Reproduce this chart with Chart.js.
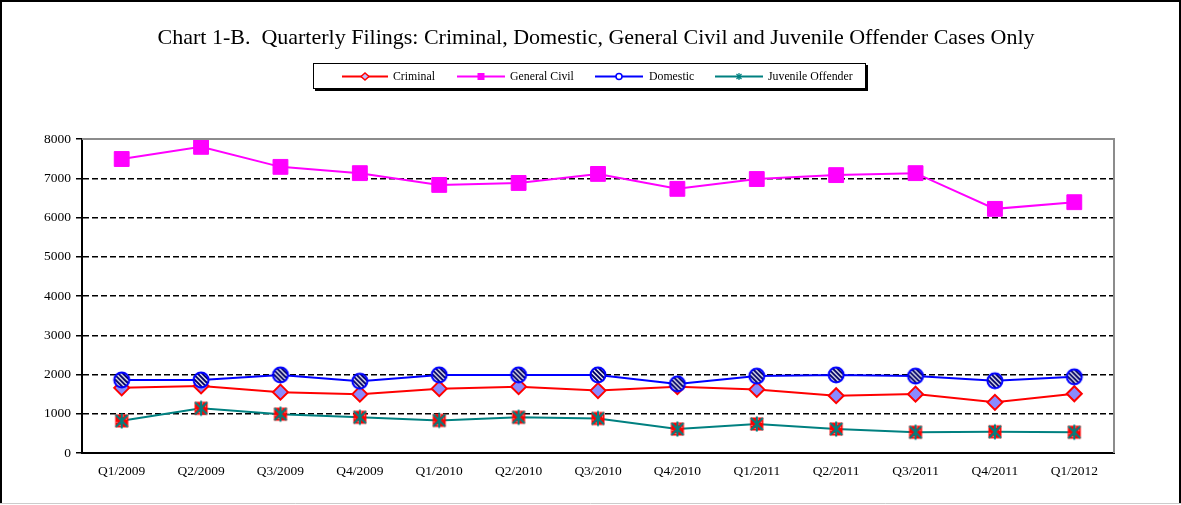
<!DOCTYPE html>
<html>
<head>
<meta charset="utf-8">
<script src="https://cdn.jsdelivr.net/npm/chart.js@4.4.1/dist/chart.umd.min.js"></script>
<style>
  html, body { margin: 0; padding: 0; background: #fff; }
  #wrap { position: relative; width: 1181px; height: 505px; }
</style>
</head>
<body>
<div id="wrap"><canvas id="c" width="1181" height="505"></canvas></div>
<script>
const chartTitle = 'Chart 1-B.  Quarterly Filings: Criminal, Domestic, General Civil and Juvenile Offender Cases Only';
const categories = ['Q1/2009','Q2/2009','Q3/2009','Q4/2009','Q1/2010','Q2/2010','Q3/2010','Q4/2010','Q1/2011','Q2/2011','Q3/2011','Q4/2011','Q1/2012'];
const seriesNames = ['Criminal', 'General Civil', 'Domestic', 'Juvenile Offender'];
const criminal     = [1660, 1710, 1550, 1500, 1640, 1690, 1590, 1690, 1620, 1460, 1500, 1290, 1510];
const generalCivil = [7490, 7800, 7290, 7130, 6830, 6880, 7110, 6730, 6980, 7080, 7130, 6220, 6390];
const domestic     = [1860, 1860, 1990, 1830, 1990, 1990, 1990, 1760, 1960, 1990, 1960, 1840, 1940];
const juvenile     = [820, 1140, 990, 910, 830, 910, 880, 610, 740, 610, 530, 540, 530];
const yTicks = [0, 1000, 2000, 3000, 4000, 5000, 6000, 7000, 8000];

const FONT = '"Liberation Serif", "Times New Roman", serif';

// Domestic marker: blue circle with navy/white diagonal stripes
function makeDomesticMarker() {
  const s = 20, c = document.createElement('canvas');
  c.width = s; c.height = s;
  const g = c.getContext('2d');
  const r = 7.5;
  g.save();
  g.beginPath(); g.arc(s/2, s/2, r, 0, Math.PI*2); g.closePath();
  g.clip();
  g.fillStyle = '#ffffff'; g.fillRect(0, 0, s, s);
  g.strokeStyle = '#000066'; g.lineWidth = 2;
  for (let k = -s; k < 2*s; k += 4.6) {
    g.beginPath(); g.moveTo(k, 0); g.lineTo(k + s, s); g.stroke();
  }
  g.restore();
  g.beginPath(); g.arc(s/2, s/2, r, 0, Math.PI*2);
  g.strokeStyle = '#0000ff'; g.lineWidth = 2; g.stroke();
  return c;
}
// Juvenile marker: red hatched square with teal star
function makeJuvenileMarker() {
  const s = 18, c = document.createElement('canvas');
  c.width = s; c.height = s;
  const g = c.getContext('2d');
  const h = 6.5;
  g.fillStyle = '#ff0000';
  g.fillRect(s/2 - h, s/2 - h, 2*h, 2*h);
  g.fillStyle = '#ffc0c0';
  for (let i = 0; i < 4; i++) for (let j = 0; j < 4; j++) {
    if ((i + j) % 2 === 0) g.fillRect(s/2 - h + 1 + i*3.2, s/2 - h + 1 + j*3.2, 1, 1);
  }
  g.strokeStyle = '#008080'; g.lineWidth = 2;
  const r = 7.5;
  g.beginPath();
  g.moveTo(s/2 - r*0.8, s/2 - r*0.8); g.lineTo(s/2 + r*0.8, s/2 + r*0.8);
  g.moveTo(s/2 + r*0.8, s/2 - r*0.8); g.lineTo(s/2 - r*0.8, s/2 + r*0.8);
  g.moveTo(s/2, s/2 - r); g.lineTo(s/2, s/2 + r);
  g.stroke();
  return c;
}

const domMarker = makeDomesticMarker();
const juvMarker = makeJuvenileMarker();

const decoPlugin = {
  id: 'deco',
  afterDraw(chart) {
    const ctx = chart.ctx;
    const a = chart.chartArea;
    ctx.save();
    // gray plot-area top/right border
    ctx.strokeStyle = '#8c8c8c'; ctx.lineWidth = 2;
    ctx.beginPath();
    ctx.moveTo(a.left, a.top); ctx.lineTo(a.right, a.top); ctx.lineTo(a.right, a.bottom);
    ctx.stroke();
    // outer border
    ctx.strokeStyle = '#000'; ctx.lineWidth = 2;
    ctx.beginPath();
    ctx.moveTo(1, 504); ctx.lineTo(1, 1); ctx.lineTo(1180, 1); ctx.lineTo(1180, 504);
    ctx.stroke();
    ctx.strokeStyle = '#cccccc'; ctx.lineWidth = 1;
    ctx.beginPath(); ctx.moveTo(0, 503.5); ctx.lineTo(1181, 503.5); ctx.stroke();

    // title
    ctx.fillStyle = '#000';
    ctx.font = '22px ' + FONT;
    ctx.textAlign = 'center'; ctx.textBaseline = 'middle';
    ctx.fillText(chartTitle, 596, 38);

    // legend box
    ctx.fillStyle = '#000';
    ctx.fillRect(315, 65, 553, 26); // shadow
    ctx.fillStyle = '#fff';
    ctx.fillRect(313, 63, 553, 26);
    ctx.strokeStyle = '#000'; ctx.lineWidth = 1;
    ctx.strokeRect(313.5, 63.5, 552, 25);

    const items = [
      { x0: 342, x1: 388, tx: 393, color: '#ff0000', m: 'diamond' },
      { x0: 457, x1: 505, tx: 510, color: '#ff00ff', m: 'square' },
      { x0: 595, x1: 643, tx: 649, color: '#0000ff', m: 'circle' },
      { x0: 715, x1: 763, tx: 768, color: '#008080', m: 'star' }
    ];
    const ly = 76.5;
    items.forEach((it, i) => {
      ctx.strokeStyle = it.color; ctx.lineWidth = 2;
      ctx.beginPath(); ctx.moveTo(it.x0, ly); ctx.lineTo(it.x1, ly); ctx.stroke();
      const cx = (it.x0 + it.x1) / 2;
      ctx.lineWidth = 1.5;
      if (it.m === 'diamond') {
        ctx.fillStyle = '#c0c0ff';
        ctx.beginPath();
        ctx.moveTo(cx - 4, ly); ctx.lineTo(cx, ly - 3.5); ctx.lineTo(cx + 4, ly); ctx.lineTo(cx, ly + 3.5); ctx.closePath();
        ctx.fill(); ctx.stroke();
      } else if (it.m === 'square') {
        ctx.fillStyle = it.color;
        ctx.fillRect(cx - 3.5, ly - 3.5, 7, 7);
      } else if (it.m === 'circle') {
        ctx.fillStyle = '#fff';
        ctx.beginPath(); ctx.arc(cx, ly, 3, 0, Math.PI*2); ctx.fill(); ctx.stroke();
      } else {
        ctx.lineWidth = 1.2;
        ctx.beginPath();
        ctx.moveTo(cx - 2.5, ly - 2.5); ctx.lineTo(cx + 2.5, ly + 2.5);
        ctx.moveTo(cx + 2.5, ly - 2.5); ctx.lineTo(cx - 2.5, ly + 2.5);
        ctx.moveTo(cx, ly - 3.5); ctx.lineTo(cx, ly + 3.5);
        ctx.stroke();
      }
      ctx.fillStyle = '#000';
      ctx.font = '11.8px ' + FONT;
      ctx.textAlign = 'left'; ctx.textBaseline = 'middle';
      ctx.fillText(seriesNames[i], it.tx, ly + 0.5);
    });
    ctx.restore();
  }
};

new Chart(document.getElementById('c'), {
  type: 'line',
  data: {
    labels: categories,
    datasets: [
      {
        label: seriesNames[0], data: criminal, order: 4,
        borderColor: '#ff0000', borderWidth: 2,
        pointStyle: 'rectRot', pointRadius: 7.5, pointBackgroundColor: '#8a8aff',
        pointBorderColor: '#ff0000', pointBorderWidth: 2
      },
      {
        label: seriesNames[1], data: generalCivil, order: 3,
        borderColor: '#ff00ff', borderWidth: 2,
        pointStyle: 'rect', pointRadius: 10.5, pointBackgroundColor: '#ff00ff',
        pointBorderColor: '#ff00ff', pointBorderWidth: 1
      },
      {
        label: seriesNames[2], data: domestic, order: 2,
        borderColor: '#0000ff', borderWidth: 2,
        pointStyle: domMarker, pointRadius: 8
      },
      {
        label: seriesNames[3], data: juvenile, order: 1,
        borderColor: '#008080', borderWidth: 2,
        pointStyle: juvMarker, pointRadius: 8
      }
    ]
  },
  options: {
    responsive: false,
    animation: false,
    events: [],
    layout: { padding: { left: 0, right: 67, top: 139, bottom: 0 } },
    plugins: {
      legend: { display: false },
      title: { display: false },
      tooltip: { enabled: false }
    },
    elements: { line: { tension: 0 } },
    scales: {
      x: {
        offset: true,
        grid: { display: false },
        border: { display: true, color: '#000', width: 2 },
        ticks: { color: '#000', font: { family: FONT, size: 13.5 }, padding: 2, maxRotation: 0, autoSkip: false },
        afterFit(s) { s.height = 52; }
      },
      y: {
        min: 0, max: 8000,
        afterBuildTicks(s) { s.ticks = yTicks.map(v => ({ value: v })); },
        grid: {
          color: '#000', lineWidth: 1.5, drawTicks: true, tickLength: 6,
          tickColor: '#000', tickWidth: 1.5, tickBorderDash: [],
          drawOnChartArea: true
        },
        border: { display: true, color: '#000', width: 2, dash: [6, 3] },
        ticks: {
          color: '#000', font: { family: FONT, size: 13.5 }, padding: 5,
          callback: (v) => String(v)
        },
        afterFit(s) { s.width = 82; }
      }
    }
  },
  plugins: [decoPlugin]
});
</script>
</body>
</html>
